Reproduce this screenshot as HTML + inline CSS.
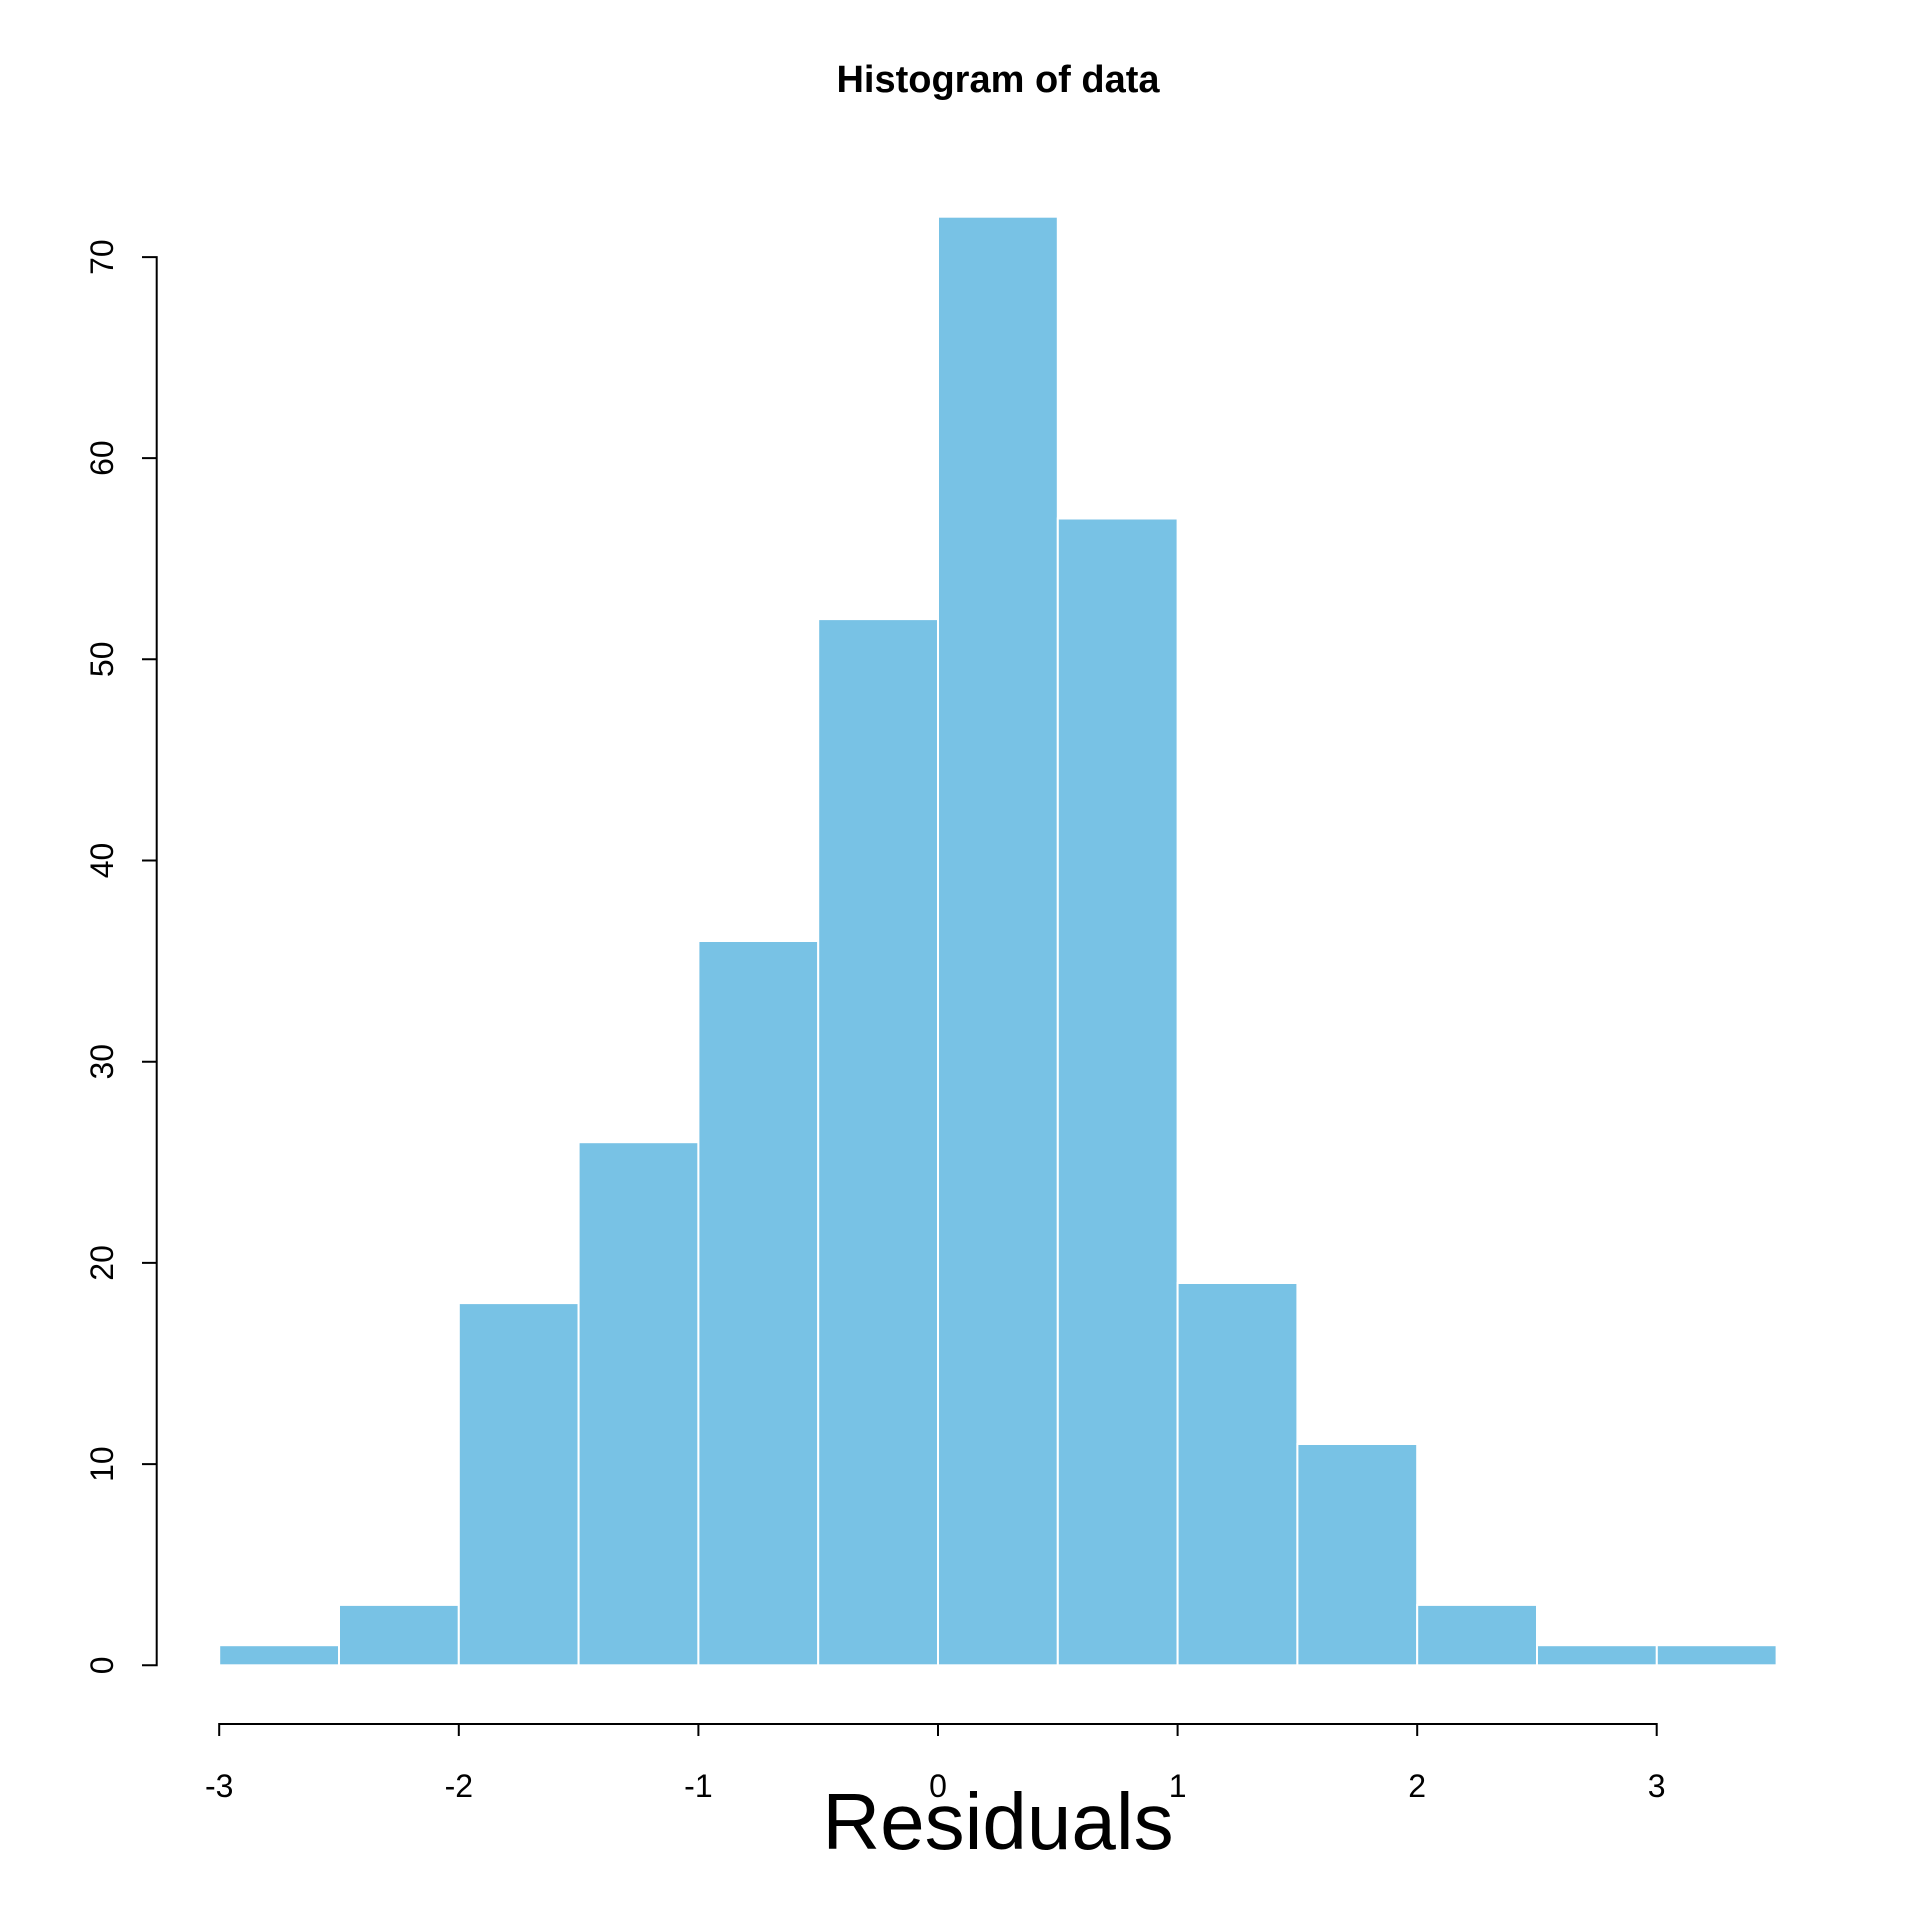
<!DOCTYPE html>
<html><head><meta charset="utf-8"><style>html,body{margin:0;padding:0;background:#fff}svg{display:block}</style></head>
<body>
<svg xmlns="http://www.w3.org/2000/svg" width="1920" height="1920" viewBox="0 0 1920 1920" font-family="Liberation Sans, Arial, sans-serif">
<rect width="1920" height="1920" fill="#fff"/>
<text x="998" y="92" font-size="38" font-weight="bold" text-anchor="middle">Histogram of data</text>
<g fill="#78c2e5" stroke="#fff" stroke-width="2">
<rect x="219.2" y="1645.2" width="119.8" height="20.1"/>
<rect x="339.0" y="1604.9" width="119.8" height="60.4"/>
<rect x="458.8" y="1303.1" width="119.8" height="362.2"/>
<rect x="578.6" y="1142.2" width="119.8" height="523.1"/>
<rect x="698.4" y="941.0" width="119.8" height="724.3"/>
<rect x="818.2" y="619.1" width="119.8" height="1046.2"/>
<rect x="938.0" y="216.7" width="119.8" height="1448.6"/>
<rect x="1057.8" y="518.5" width="119.8" height="1146.8"/>
<rect x="1177.6" y="1283.0" width="119.8" height="382.3"/>
<rect x="1297.4" y="1444.0" width="119.8" height="221.3"/>
<rect x="1417.2" y="1604.9" width="119.8" height="60.4"/>
<rect x="1537.0" y="1645.2" width="119.8" height="20.1"/>
<rect x="1656.8" y="1645.2" width="119.8" height="20.1"/>
</g>
<g stroke="#000" stroke-width="2" fill="none">
<path d="M219.2 1736V1724H1656.7V1736M458.8 1724V1736M698.4 1724V1736M938 1724V1736M1177.6 1724V1736M1417.2 1724V1736"/>
<path d="M142 1665.3H156.7V257.1H142M142 1464.1H156.7M142 1262.9H156.7M142 1061.7H156.7M142 860.5H156.7M142 659.3H156.7M142 458.1H156.7"/>
</g>
<g font-size="32" text-anchor="middle">
<text x="219.2" y="1797">-3</text><text x="458.8" y="1797">-2</text><text x="698.4" y="1797">-1</text><text x="938" y="1797">0</text><text x="1177.6" y="1797">1</text><text x="1417.2" y="1797">2</text><text x="1656.7" y="1797">3</text>
<text transform="translate(113,1665.3) rotate(-90)">0</text>
<text transform="translate(113,1464.1) rotate(-90)">10</text>
<text transform="translate(113,1262.9) rotate(-90)">20</text>
<text transform="translate(113,1061.7) rotate(-90)">30</text>
<text transform="translate(113,860.5) rotate(-90)">40</text>
<text transform="translate(113,659.3) rotate(-90)">50</text>
<text transform="translate(113,458.1) rotate(-90)">60</text>
<text transform="translate(113,257.1) rotate(-90)">70</text>
</g>
<text x="998" y="1849" font-size="80" text-anchor="middle">Residuals</text>
</svg>
</body></html>
